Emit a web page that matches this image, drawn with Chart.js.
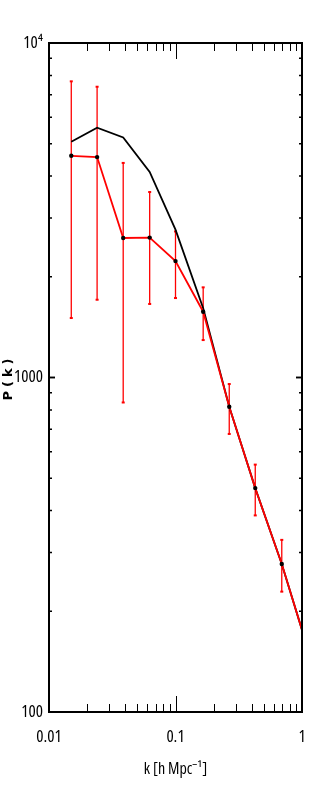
<!DOCTYPE html>
<html>
<head>
<meta charset="utf-8">
<script src="https://cdn.jsdelivr.net/npm/chart.js@4/dist/chart.umd.min.js"></script>
<style>
html,body{margin:0;padding:0;background:#fff;}
#wrap{width:319px;height:797px;position:relative;}
</style>
</head>
<body>
<div id="wrap"><canvas id="c" width="319" height="797"></canvas></div>
<script>
// Data
const kValues    = [0.015, 0.024, 0.0386, 0.0625, 0.100, 0.1655, 0.266, 0.427, 0.692, 1.0];
const pkMeasured = [4600, 4560, 2612, 2620, 2228, 1573, 818, 467, 277, 176];
const errUpper   = [7680, 7400, 4380, 3585, 2733, 1860, 956, 549, 327];
const errLower   = [1506, 1708, 842, 1659, 1728, 1294, 678, 387, 229];
const pkModel    = [5070, 5580, 5220, 4115, 2767, 1610, 818, 467, 277, 176];
const xTickValues = [0.01, 0.1, 1];
const xTickLabels = ['0.01', '0.1', '1'];
const yTickValues = [100, 1000, 10000];
const yTickLabels = ['100', '1000', '10\u2074'];

const FONT = "'Open Sans', sans-serif";

const measuredPts = kValues.map((k, i) => ({x: k, y: pkMeasured[i]}));
const modelPts = kValues.map((k, i) => ({x: k, y: pkModel[i]}));

const errorBars = {
  id: 'errorBars',
  beforeDatasetsDraw(chart) {
    const {ctx, scales: {x, y}} = chart;
    ctx.save();
    ctx.strokeStyle = '#ff0000';
    ctx.fillStyle = '#ff0000';
    ctx.lineWidth = 1.3;
    errUpper.forEach((hi, i) => {
      const px = x.getPixelForValue(kValues[i]);
      const pHi = y.getPixelForValue(hi);
      const pLo = y.getPixelForValue(errLower[i]);
      ctx.beginPath();
      ctx.moveTo(px, pHi);
      ctx.lineTo(px, pLo);
      ctx.stroke();
      ctx.fillRect(px - 1.5, pHi - 1, 3, 2);
      ctx.fillRect(px - 1.5, pLo - 1, 3, 2);
    });
    ctx.restore();
  }
};

const spacedTitle = {
  id: 'spacedTitle',
  beforeDraw(chart) {
    const s = chart.scales.y;
    if (!s._wrappedTitle) {
      const orig = s.drawTitle;
      s.drawTitle = function () {
        const c = this.ctx;
        c.save();
        c.letterSpacing = '4px';
        orig.apply(this, arguments);
        c.restore();
      };
      s._wrappedTitle = true;
    }
  }
};

const frame = {
  id: 'frame',
  afterDraw(chart) {
    const {ctx, chartArea: a, scales: {x, y}} = chart;
    ctx.save();
    ctx.strokeStyle = '#000';
    ctx.lineWidth = 1;
    for (let d = -2; d < 0; d++) {
      for (let m = 1; m <= 10; m++) {
        const v = m * Math.pow(10, d);
        const px = Math.round(x.getPixelForValue(v)) + 0.5;
        const major = (m === 1 || m === 10);
        const len = major ? 16 : 8;
        ctx.beginPath();
        ctx.moveTo(px, a.bottom); ctx.lineTo(px, a.bottom - len);
        ctx.moveTo(px, a.top); ctx.lineTo(px, a.top + len);
        ctx.stroke();
      }
    }
    ctx.lineWidth = 1.5;
    for (let d = 2; d < 4; d++) {
      for (let m = 1; m <= 10; m++) {
        const v = m * Math.pow(10, d);
        const py = y.getPixelForValue(v);
        const major = (m === 1 || m === 10);
        const len = major ? 6 : 3;
        ctx.beginPath();
        ctx.moveTo(a.left, py); ctx.lineTo(a.left + len, py);
        ctx.moveTo(a.right, py); ctx.lineTo(a.right - len, py);
        ctx.stroke();
      }
    }
    ctx.lineWidth = 2;
    ctx.strokeRect(a.left, a.top, a.right - a.left, a.bottom - a.top);
    ctx.restore();
  }
};

new Chart(document.getElementById('c'), {
  type: 'line',
  data: {
    datasets: [
      {
        label: 'measured',
        data: measuredPts,
        borderColor: '#ff0000',
        borderWidth: 1.8,
        pointRadius: kValues.map((k, i) => i < errUpper.length ? 2.2 : 0),
        pointBackgroundColor: '#000',
        pointBorderWidth: 0,
        tension: 0,
        fill: false
      },
      {
        label: 'model',
        data: modelPts,
        borderColor: '#000',
        borderWidth: 1.8,
        pointRadius: 0,
        tension: 0,
        fill: false
      }
    ]
  },
  options: {
    responsive: false,
    animation: false,
    devicePixelRatio: 1,
    layout: {padding: {top: 43, right: 17, left: 0, bottom: 0}},
    plugins: {legend: {display: false}, tooltip: {enabled: false}},
    scales: {
      x: {
        type: 'logarithmic',
        min: 0.01, max: 1,
        afterFit(s) { s.height = 85; s.paddingLeft = 0; s.paddingRight = 0; },
        afterBuildTicks(s) { s.ticks = xTickValues.map(v => ({value: v})); },
        grid: {display: false, drawTicks: false},
        border: {display: false},
        ticks: {
          color: '#000',
          font: {family: FONT, size: 17, weight: 'condensed'},
          padding: 15,
          maxRotation: 0,
          autoSkip: false,
          callback: (v) => xTickLabels[xTickValues.indexOf(v)]
        },
        title: {
          display: true,
          text: 'k [h Mpc\u207B\u00B9]',
          color: '#000',
          font: {family: FONT, size: 16, weight: 'condensed'},
          padding: {top: 0, bottom: 18}
        }
      },
      y: {
        type: 'logarithmic',
        min: 100, max: 10000,
        afterFit(s) { s.width = 49; s.paddingTop = 0; s.paddingBottom = 0; },
        afterBuildTicks(s) { s.ticks = yTickValues.map(v => ({value: v})); },
        grid: {display: false, drawTicks: false},
        border: {display: false},
        ticks: {
          color: '#000',
          font: {family: FONT, size: 17, weight: 'condensed'},
          padding: 6,
          autoSkip: false,
          callback: (v) => yTickLabels[yTickValues.indexOf(v)]
        },
        title: {
          display: true,
          text: 'P(k)',
          color: '#000',
          font: {family: "'DejaVu Sans', sans-serif", size: 13, weight: 'bold'},
          padding: {top: 1, bottom: 0}
        }
      }
    }
  },
  plugins: [errorBars, spacedTitle, frame]
});
</script>
</body>
</html>
